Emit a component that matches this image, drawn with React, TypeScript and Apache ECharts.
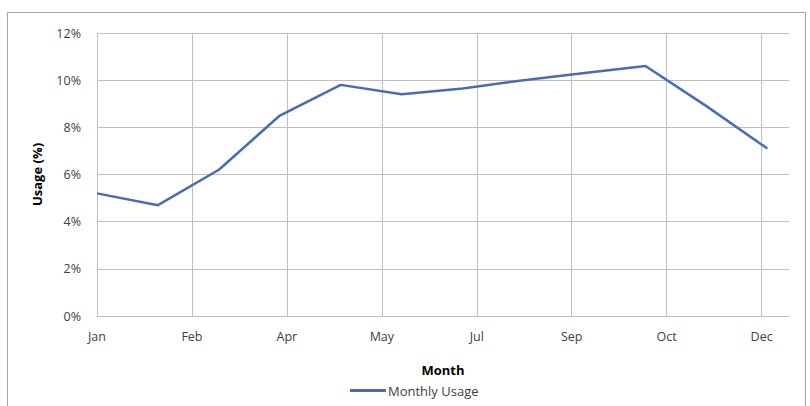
import React, { useEffect, useRef } from "react";
import * as echarts from "echarts";

// Monthly usage, one point per month (x = month index, 0 = Jan)
const months = ["Jan", "Feb", "Mar", "Apr", "May", "Jun", "Jul", "Aug", "Sep", "Oct", "Nov", "Dec"];
const usage = [5.2, 4.7, 6.2, 8.5, 9.8, 9.4, 9.65, 10.0, 10.3, 10.6, 8.9, 7.1];

// Date-axis tick labels, spaced 1.558 months apart
const tickLabels = ["Jan", "Feb", "Apr", "May", "Jul", "Sep", "Oct", "Dec"];
const tickStep = 1.558;
const axisMaxMonth = 11.355;

const FONT = "'Open Sans', 'Liberation Sans', sans-serif";

export default function App() {
  const ref = useRef<HTMLDivElement>(null);

  useEffect(() => {
    if (!ref.current) return;
    const chart = echarts.init(ref.current, null, { renderer: "svg" });
    const points = months.map((_, i) => [i, usage[i]]);

    chart.setOption({
      animation: false,
      backgroundColor: "#ffffff",
      textStyle: { fontFamily: FONT },
      graphic: [
        {
          type: "rect",
          shape: { x: 7.5, y: 12.5, width: 798, height: 400 },
          style: { fill: "none", stroke: "#a6a6a6", lineWidth: 1 },
          silent: true,
        },
      ],
      grid: { left: 97, right: 21, top: 33, bottom: 90 },
      legend: {
        data: ["Monthly Usage"],
        left: 345,
        top: 379,
        icon: "rect",
        itemWidth: 36,
        itemHeight: 3,
        itemGap: 4,
        textStyle: { fontFamily: FONT, fontSize: 13, color: "#404040", padding: [0, 0, 0, -3] },
      },
      xAxis: {
        type: "value",
        min: 0,
        max: axisMaxMonth,
        interval: tickStep,
        name: "Month",
        nameLocation: "middle",
        nameGap: 47,
        nameTextStyle: { fontFamily: FONT, fontSize: 13, fontWeight: "bold", color: "#000000" },
        axisLine: { show: true, lineStyle: { color: "#bfbfbf", width: 1 } },
        axisTick: { show: false },
        axisLabel: {
          margin: 14,
          fontSize: 12.5,
          color: "#404040",
          fontFamily: FONT,
          showMaxLabel: false,
          formatter: (v: number) => {
            const idx = Math.round(v / tickStep);
            return Math.abs(v - idx * tickStep) < 0.01 && idx < tickLabels.length ? tickLabels[idx] : "";
          },
        },
        splitLine: { show: true, showMaxLine: false, lineStyle: { color: "#bfbfbf", width: 1 } },
      },
      yAxis: {
        type: "value",
        min: 0,
        max: 12,
        interval: 2,
        name: "Usage (%)",
        nameLocation: "middle",
        nameGap: 54,
        nameTextStyle: { fontFamily: FONT, fontSize: 13, fontWeight: "bold", color: "#000000" },
        axisLine: { show: false },
        axisTick: { show: false },
        axisLabel: { margin: 16, fontSize: 12.5, color: "#404040", fontFamily: FONT, formatter: "{value}%" },
        splitLine: { show: true, lineStyle: { color: "#bfbfbf", width: 1 } },
      },
      series: [
        {
          name: "Monthly Usage",
          type: "line",
          data: points,
          showSymbol: false,
          symbol: "none",
          lineStyle: { color: "#4a6cb3", width: 2.5 },
          itemStyle: { color: "#4a6cb3" },
        },
      ],
    });

    return () => chart.dispose();
  }, []);

  return (
    <div
      ref={ref}
      style={{ position: "fixed", left: 0, top: 0, width: 810, height: 406 }}
    />
  );
}
